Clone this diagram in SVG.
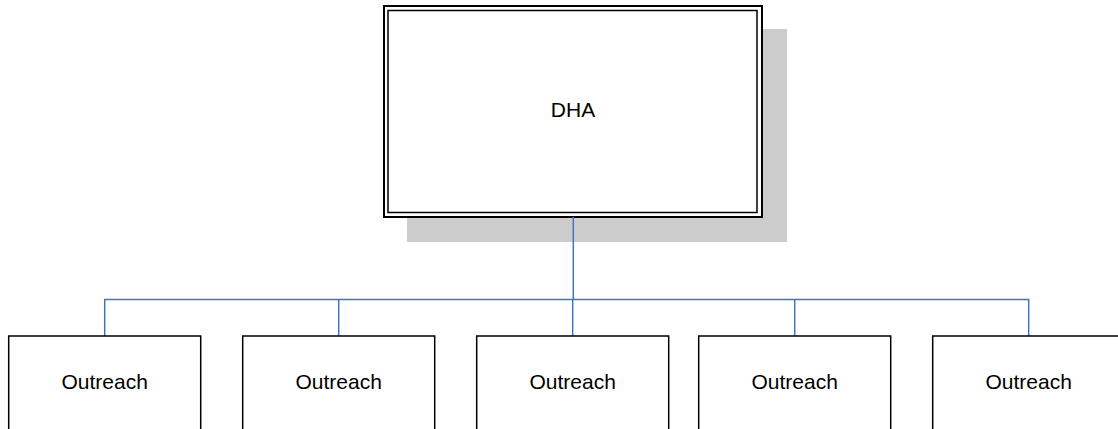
<svg xmlns="http://www.w3.org/2000/svg" width="1118" height="429" viewBox="0 0 1118 429">
  <style>
    .lbl { font-family: "Liberation Sans", Arial, sans-serif; font-size: 21px; fill: #000; text-anchor: middle; }
    .box { fill: #fff; stroke: #000; stroke-width: 1.5; }
    .link { fill: none; stroke: #4472c4; stroke-width: 1.5; }
  </style>
  <rect width="1118" height="429" fill="#fff"/>

  <g id="dha">
    <rect x="407" y="29" width="380" height="213" fill="#cccccc"/>
    <rect x="384" y="6" width="378" height="211" fill="#fff" stroke="#000" stroke-width="2"/>
    <rect x="388" y="10.5" width="369" height="202" fill="none" stroke="#000" stroke-width="1.5"/>
    <text class="lbl" x="573" y="117">DHA</text>
  </g>

  <!-- drawn above the shadow so the trunk line stays visible -->
  <g id="connectors">
    <path class="link" d="M573.3 217 V299.5"/>
    <path class="link" d="M104.7 336 V299.5 H1028.7 V336"/>
    <path class="link" d="M338.7 299.5 V336"/>
    <path class="link" d="M572.7 299.5 V336"/>
    <path class="link" d="M794.7 299.5 V336"/>
  </g>

  <g id="outreach1">
    <rect class="box" x="8.7" y="336" width="192" height="110"/>
    <text class="lbl" x="104.7" y="389">Outreach</text>
  </g>
  <g id="outreach2">
    <rect class="box" x="242.7" y="336" width="192" height="110"/>
    <text class="lbl" x="338.7" y="389">Outreach</text>
  </g>
  <g id="outreach3">
    <rect class="box" x="476.7" y="336" width="192" height="110"/>
    <text class="lbl" x="572.7" y="389">Outreach</text>
  </g>
  <g id="outreach4">
    <rect class="box" x="698.7" y="336" width="192" height="110"/>
    <text class="lbl" x="794.7" y="389">Outreach</text>
  </g>
  <g id="outreach5">
    <rect class="box" x="932.7" y="336" width="192" height="110"/>
    <text class="lbl" x="1028.7" y="389">Outreach</text>
  </g>
</svg>
